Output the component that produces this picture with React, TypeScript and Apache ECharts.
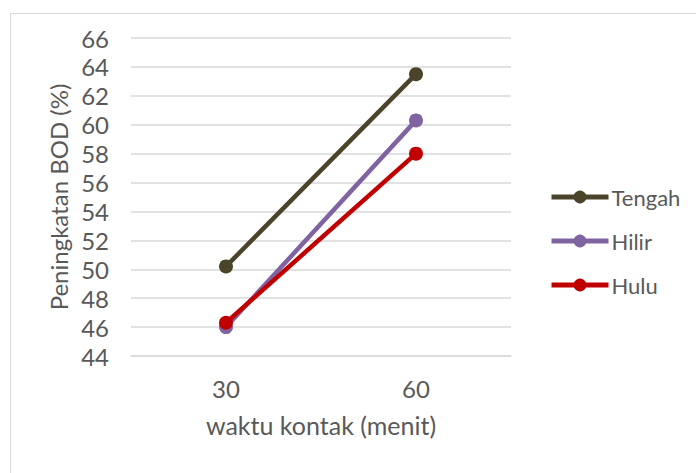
import React, { useEffect, useRef } from "react";
import * as echarts from "echarts";

const categories = ["30", "60"];
const tengah = [50.2, 63.5];
const hilir = [46.0, 60.3];
const hulu = [46.3, 58.0];
const seriesNames = ["Tengah", "Hilir", "Hulu"];
const colors = ["#4a452a", "#8064a2", "#c00000"];

const FONT = "Lato";
const TXT = "#595959";
const FS = 24;

export default function App() {
  const ref = useRef<HTMLDivElement>(null);
  useEffect(() => {
    if (!ref.current) return;
    const chart = echarts.init(ref.current, undefined, { renderer: "svg" });
    const datasets = [tengah, hilir, hulu];
    chart.setOption({
      animation: false,
      backgroundColor: "#ffffff",
      textStyle: { fontFamily: FONT },
      graphic: [
        {
          type: "rect",
          shape: { x: 10.5, y: 13.5, width: 800, height: 800 },
          style: { fill: "none", stroke: "#d9d9d9", lineWidth: 1 },
          silent: true,
        },
      ],
      grid: { left: 131, right: 185, top: 38, bottom: 117 },
      legend: {
        orient: "vertical",
        left: 549,
        top: 186,
        padding: 0,
        itemWidth: 57,
        itemHeight: 16,
        itemGap: 22,
        lineStyle: { width: 5 },
        textStyle: { fontFamily: FONT, fontSize: 22, color: TXT, padding: [0, 0, 0, -2] },
        data: seriesNames,
      },
      xAxis: {
        type: "category",
        data: categories,
        boundaryGap: true,
        axisTick: { show: false },
        axisLine: { lineStyle: { color: "#d9d9d9", width: 1.5 } },
        axisLabel: { fontFamily: FONT, fontSize: FS, color: TXT, margin: 20 },
        name: "waktu kontak (menit)",
        nameLocation: "middle",
        nameGap: 56,
        nameTextStyle: { fontFamily: FONT, fontSize: 25, color: TXT },
      },
      yAxis: {
        type: "value",
        min: 44,
        max: 66,
        interval: 2,
        axisLine: { show: false },
        axisTick: { show: false },
        splitLine: { lineStyle: { color: "#d9d9d9", width: 1.5 } },
        axisLabel: { fontFamily: FONT, fontSize: FS, color: TXT, margin: 22 },
        name: "Peningkatan BOD (%)",
        nameLocation: "middle",
        nameGap: 56,
        nameTextStyle: { fontFamily: FONT, fontSize: FS, color: TXT },
      },
      series: seriesNames.map((n, i) => ({
        name: n,
        type: "line",
        data: datasets[i],
        symbol: "circle",
        symbolSize: 14,
        lineStyle: { width: 4.5, color: colors[i] },
        itemStyle: { color: colors[i] },
      })),
    });
    return () => chart.dispose();
  }, []);
  return (
    <div
      ref={ref}
      style={{ position: "fixed", left: 0, top: 0, width: 696, height: 473 }}
    />
  );
}
